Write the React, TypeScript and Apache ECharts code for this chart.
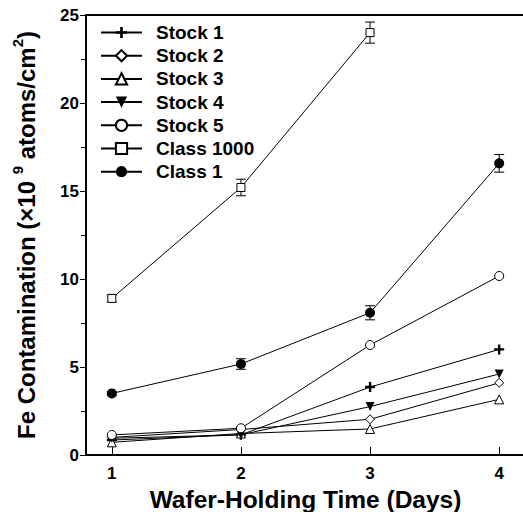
import React, { useEffect, useRef } from "react";
import * as echarts from "echarts";

const days = [1, 2, 3, 4];
const xTicks = [1, 2, 3, 4];
const seriesNames = ["Stock 1", "Stock 2", "Stock 3", "Stock 4", "Stock 5", "Class 1000", "Class 1"];
const stock1 = [0.85, 1.15, 3.86, 6.0];
const stock2 = [1.0, 1.45, 2.03, 4.1];
const stock3 = [0.72, 1.22, 1.48, 3.16];
const stock4 = [0.95, 1.15, 2.75, 4.6];
const stock5 = [1.14, 1.52, 6.25, 10.17];
const class1000 = [8.9, 15.2, 24.0];
const class1 = [3.5, 5.17, 8.08, 16.57];
const class1000Err = [0.2, 0.47, 0.6];
const class1Err = [0.1, 0.3, 0.4, 0.5];

const CROSS = "path://M0,3.8 H10 V6.2 H0 Z M3.8,0 H6.2 V10 H3.8 Z";
const FONT = "Liberation Sans, Arial, sans-serif";

export default function App() {
  const ref = useRef<HTMLDivElement>(null);
  useEffect(() => {
    if (!ref.current) return;
    const chart = echarts.init(ref.current, null, { renderer: "svg" });
    const pts = (vals: number[]) => vals.map((v, i) => [days[i], v]);
    const errs = (vals: number[], e: number[]) => vals.map((v, i) => [days[i], v - e[i], v + e[i]]);
    const hollow = { color: "#fff", borderColor: "#000", borderWidth: 1 };
    const filled = { color: "#000", borderColor: "#000", borderWidth: 0 };
    const mk = (name: string, data: number[], symbol: string, size: number, itemStyle: any, extra: any = {}) => ({
      name,
      type: "line",
      data: pts(data),
      symbol,
      symbolSize: size,
      showSymbol: true,
      lineStyle: { color: "#000", width: 1 },
      itemStyle,
      z: 3,
      ...extra,
    });
    const errSeries = (name: string, data: number[][]) => ({
      name,
      type: "custom",
      data,
      z: 2,
      renderItem: (params: any, api: any) => {
        const x = api.value(0);
        const top = api.coord([x, api.value(2)]);
        const bot = api.coord([x, api.value(1)]);
        const hw = 5;
        const st = { stroke: "#000", lineWidth: 1 };
        return {
          type: "group",
          children: [
            { type: "line", shape: { x1: top[0], y1: top[1], x2: bot[0], y2: bot[1] }, style: st },
            { type: "line", shape: { x1: top[0] - hw, y1: top[1], x2: top[0] + hw, y2: top[1] }, style: st },
            { type: "line", shape: { x1: bot[0] - hw, y1: bot[1], x2: bot[0] + hw, y2: bot[1] }, style: st },
          ],
        };
      },
    });
    chart.setOption({
      animation: false,
      backgroundColor: "#fff",
      textStyle: { fontFamily: FONT, fontWeight: "bold", color: "#000" },
      grid: {
        left: 86,
        top: 15,
        width: 439,
        bottom: 57,
        outerBoundsMode: "none",
        containLabel: false,
        show: true,
        borderColor: "#000",
        borderWidth: 2,
        backgroundColor: "transparent",
      },
      legend: {
        orient: "vertical",
        left: 95,
        top: 18,
        data: seriesNames,
        itemWidth: 41,
        itemHeight: 14,
        itemGap: 4.2,
        textStyle: {
          fontSize: 19,
          fontWeight: "bold",
          color: "#000",
          padding: [0, 0, 0, 9],
          fontFamily: FONT,
        },
      },
      xAxis: {
        type: "value",
        min: 0.8,
        max: 4.2,
        name: "Wafer-Holding Time (Days)",
        nameLocation: "middle",
        nameGap: 23,
        nameTextStyle: { fontSize: 24.5, fontWeight: "bold", color: "#000", fontFamily: FONT },
        axisLine: { show: true, lineStyle: { color: "#000", width: 2 } },
        axisTick: { show: true, inside: true, length: 8, customValues: xTicks, lineStyle: { color: "#000", width: 1 } },
        axisLabel: { customValues: xTicks, margin: 10, fontSize: 17, fontWeight: "bold", color: "#000", fontFamily: FONT },
        splitLine: { show: false },
      },
      yAxis: {
        type: "value",
        min: 0,
        max: 25,
        interval: 5,
        name: "{a|Fe Contamination (×10 }{s|9}{a| atoms/cm}{s|2}{a|)}",
        nameLocation: "middle",
        nameGap: 48,
        nameTextStyle: {
          fontSize: 24,
          fontWeight: "bold",
          color: "#000",
          fontFamily: FONT,
          rich: {
            a: { fontSize: 24, fontWeight: "bold", color: "#000", lineHeight: 28, verticalAlign: "bottom", fontFamily: FONT },
            s: { fontSize: 15, fontWeight: "bold", color: "#000", lineHeight: 28, verticalAlign: "top", fontFamily: FONT },
          },
        },
        axisLine: { show: true, lineStyle: { color: "#000", width: 2 } },
        axisTick: { show: true, inside: false, length: 6, lineStyle: { color: "#000", width: 1 } },
        minorTick: { show: true, splitNumber: 2, length: 5, lineStyle: { color: "#000", width: 1 } },
        axisLabel: { margin: 7, fontSize: 17, fontWeight: "bold", color: "#000", fontFamily: FONT },
        splitLine: { show: false },
      },
      series: [
        errSeries("err1000", errs(class1000, class1000Err)),
        errSeries("err1", errs(class1, class1Err)),
        mk("Stock 1", stock1, CROSS, 10, filled),
        mk("Stock 2", stock2, "diamond", 9, hollow),
        mk("Stock 3", stock3, "triangle", 9, hollow),
        mk("Stock 4", stock4, "triangle", 9, filled, { symbolRotate: 180 }),
        mk("Stock 5", stock5, "circle", 9, hollow),
        mk("Class 1000", class1000, "rect", 8, hollow),
        mk("Class 1", class1, "circle", 10, filled),
      ],
    });
    return () => chart.dispose();
  }, []);
  return <div ref={ref} style={{ position: "fixed", left: 0, top: 0, width: 523, height: 512 }} />;
}
